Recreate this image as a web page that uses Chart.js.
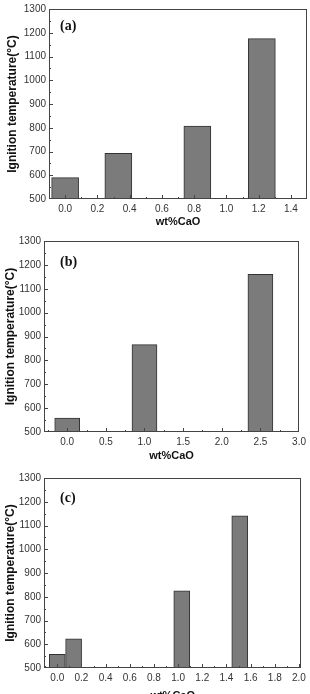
<!DOCTYPE html>
<html>
<head>
<meta charset="utf-8">
<script src="https://cdn.jsdelivr.net/npm/chart.js@4.4.1/dist/chart.umd.min.js"></script>
<style>
  html, body { margin: 0; padding: 0; background: #fff; overflow: hidden; }
  body { width: 310px; height: 694px; position: relative; }
  canvas { position: absolute; left: 0; }
</style>
</head>
<body>
<canvas id="chartA" width="310" height="230" style="top:0px"></canvas>
<canvas id="chartB" width="310" height="234" style="top:230px"></canvas>
<canvas id="chartC" width="310" height="240" style="top:464px"></canvas>
<script>
// panel (a)
const caoA = [0, 0.33, 0.82, 1.22];
const tempA = [590, 692, 807, 1175];
const xTicksA = [0, 0.2, 0.4, 0.6, 0.8, 1.0, 1.2, 1.4];

// panel (b)
const caoB = [0, 1.0, 2.5];
const tempB = [558, 866, 1160];
const xTicksB = [0, 0.5, 1.0, 1.5, 2.0, 2.5, 3.0];

// panel (c)
const caoC = [0, 0.135, 1.03, 1.51];
const tempC = [558, 623, 825, 1141];
const xTicksC = [0, 0.2, 0.4, 0.6, 0.8, 1.0, 1.2, 1.4, 1.6, 1.8, 2.0];

const yTicks = [500, 600, 700, 800, 900, 1000, 1100, 1200, 1300];

const FONT = 'Liberation Sans, Arial, sans-serif';

// frame + inward major/minor ticks + panel letter
const frameTicks = {
  id: 'frameTicks',
  afterDraw(chart, args, opts) {
    const ctx = chart.ctx;
    const a = chart.chartArea;
    const xs = chart.scales.x, ys = chart.scales.y;
    ctx.save();
    ctx.strokeStyle = '#444';
    ctx.lineWidth = 1;
    ctx.strokeRect(Math.round(a.left) + 0.5, Math.round(a.top) + 0.5,
      Math.round(a.right - a.left) - 1, Math.round(a.bottom - a.top) - 1);

    function withMinor(scale) {
      const v = scale.ticks.map(t => t.value);
      const out = [];
      const step = v[1] - v[0];
      if (v[0] - step / 2 > scale.min) out.push([v[0] - step / 2, false]);
      for (let i = 0; i < v.length; i++) {
        out.push([v[i], true]);
        if (i < v.length - 1) out.push([(v[i] + v[i + 1]) / 2, false]);
      }
      const last = v[v.length - 1];
      if (last + step / 2 < scale.max) out.push([last + step / 2, false]);
      return out;
    }

    ctx.beginPath();
    withMinor(xs).forEach(([val, major]) => {
      const px = Math.round(xs.getPixelForValue(val)) + 0.5;
      if (px <= a.left + 1 || px >= a.right - 1) return;
      const len = major ? 4 : 2;
      ctx.moveTo(px, a.bottom);
      ctx.lineTo(px, a.bottom - len);
    });
    withMinor(ys).forEach(([val, major]) => {
      const py = Math.round(ys.getPixelForValue(val)) + 0.5;
      if (py <= a.top + 1 || py >= a.bottom - 1) return;
      const len = major ? 4 : 2;
      ctx.moveTo(a.left, py);
      ctx.lineTo(a.left + len, py);
    });
    ctx.stroke();

    if (opts.text) {
      ctx.fillStyle = '#111';
      ctx.font = 'bold 14px "Liberation Serif", "DejaVu Serif", serif';
      ctx.textBaseline = 'middle';
      ctx.textAlign = 'left';
      ctx.fillText(opts.text, a.left + opts.dx, a.top + opts.dy);
    }
    ctx.restore();
  }
};

function makeChart(id, cao, temp, xTicks, xMin, xMax, lay) {
  const points = cao.map((c, i) => ({ x: c, y: temp[i] }));
  return new Chart(document.getElementById(id), {
    type: 'bar',
    data: {
      datasets: [{
        data: points,
        backgroundColor: '#7b7b7b',
        borderColor: '#333',
        borderWidth: 1,
        borderSkipped: false,
        barThickness: lay.bar
      }]
    },
    options: {
      responsive: false,
      animation: false,
      devicePixelRatio: 1,
      layout: { padding: { top: lay.top, right: lay.right, left: 0, bottom: 0 } },
      plugins: {
        legend: { display: false },
        tooltip: { enabled: false },
        frameTicks: { text: lay.label, dx: lay.dx, dy: lay.dy }
      },
      scales: {
        x: {
          type: 'linear',
          min: xMin,
          max: xMax,
          offset: false,
          grid: { display: false, drawTicks: false },
          border: { display: false },
          afterBuildTicks: s => { s.ticks = xTicks.map(v => ({ value: v })); },
          afterFit: s => { s.height = lay.xh; },
          ticks: {
            padding: 4,
            color: '#333',
            font: { family: FONT, size: 10 },
            maxRotation: 0,
            autoSkip: false,
            callback: v => Number(v).toFixed(1)
          },
          title: {
            display: true,
            text: 'wt%CaO',
            color: '#111',
            font: { family: FONT, size: 11, weight: 'bold' },
            padding: { top: 0, bottom: 1 }
          }
        },
        y: {
          min: 500,
          max: 1300,
          grid: { display: false, drawTicks: false },
          border: { display: false },
          afterBuildTicks: s => { s.ticks = yTicks.map(v => ({ value: v })); },
          afterFit: s => { s.width = lay.yw; },
          ticks: {
            padding: 3,
            color: '#333',
            font: { family: FONT, size: 10 },
            callback: v => String(v)
          },
          title: {
            display: true,
            text: 'Ignition temperature(°C)',
            color: '#111',
            font: { family: FONT, size: 12, weight: 'bold' },
            padding: { top: lay.ytp, bottom: 0 }
          }
        }
      }
    },
    plugins: [frameTicks]
  });
}

makeChart('chartA', caoA, tempA, xTicksA, -0.1, 1.5,
  { top: 7, right: 3, yw: 49, xh: 31, bar: 27, ytp: 5, label: '(a)', dx: 11, dy: 17 });
makeChart('chartB', caoB, tempB, xTicksB, -0.3, 3.0,
  { top: 11, right: 7, yw: 44, xh: 32, bar: 25, ytp: 3, label: '(b)', dx: 16, dy: 21 });
makeChart('chartC', caoC, tempC, xTicksC, -0.11, 2.02,
  { top: 14, right: 7, yw: 44, xh: 36, bar: 16, ytp: 3, label: '(c)', dx: 16, dy: 20 });
</script>
</body>
</html>
